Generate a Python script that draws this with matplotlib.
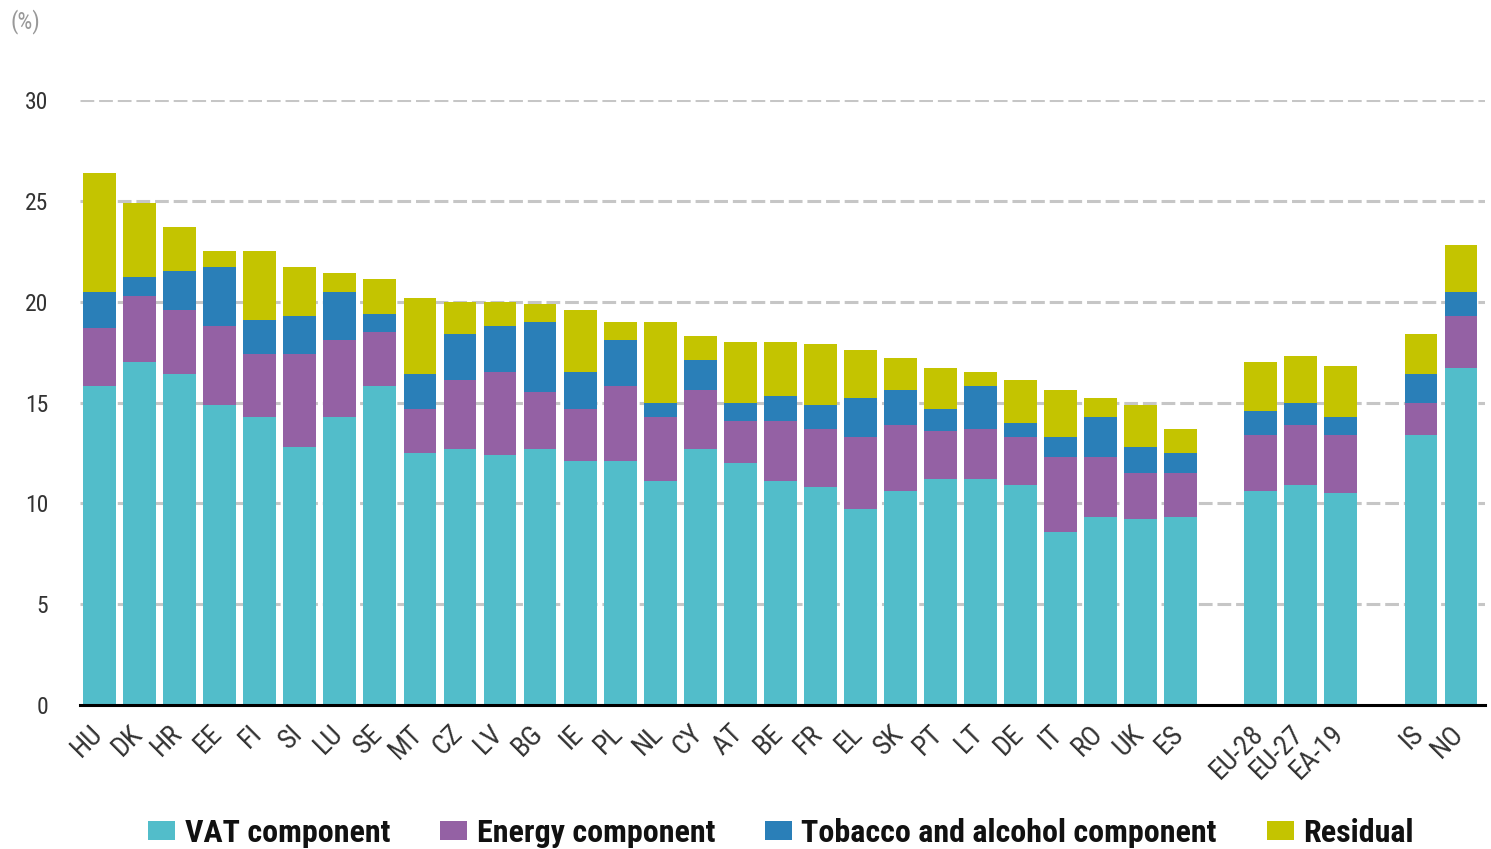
import matplotlib
matplotlib.use("Agg")
import matplotlib.pyplot as plt
from matplotlib import font_manager as fm
import matplotlib.transforms as mtransforms
import numpy as np

entries = fm.fontManager.ttflist
names = set(f.name for f in entries)
FONT, STRETCH = 'Liberation Sans', 'normal'
for cand in ['Roboto Condensed', 'Open Sans Condensed', 'Liberation Sans Narrow', 'Noto Sans Condensed']:
    if cand in names:
        FONT = cand
        break
else:
    if any(f.name == 'DejaVu Sans' and str(f.stretch) in ('condensed', 'semi-condensed') for f in entries):
        FONT, STRETCH = 'DejaVu Sans', 'condensed'
plt.rcParams['font.family'] = [FONT, 'DejaVu Sans']
plt.rcParams['font.stretch'] = STRETCH

countries = ["HU", "DK", "HR", "EE", "FI", "SI", "LU", "SE", "MT", "CZ", "LV", "BG", "IE", "PL",
             "NL", "CY", "AT", "BE", "FR", "EL", "SK", "PT", "LT", "DE", "IT", "RO", "UK", "ES",
             "EU-28", "EU-27", "EA-19", "IS", "NO"]
vat = [15.8, 17.0, 16.4, 14.9, 14.3, 12.8, 14.3, 15.8, 12.5, 12.7, 12.4, 12.7, 12.1, 12.1,
       11.1, 12.7, 12.0, 11.1, 10.8, 9.7, 10.6, 11.2, 11.2, 10.9, 8.6, 9.3, 9.2, 9.3,
       10.6, 10.9, 10.5, 13.4, 16.7]
energy = [2.9, 3.3, 3.2, 3.9, 3.1, 4.6, 3.8, 2.7, 2.2, 3.4, 4.1, 2.8, 2.6, 3.7,
          3.2, 2.9, 2.1, 3.0, 2.9, 3.6, 3.3, 2.4, 2.5, 2.4, 3.7, 3.0, 2.3, 2.2,
          2.8, 3.0, 2.9, 1.6, 2.6]
tobacco = [1.8, 0.9, 1.9, 2.9, 1.7, 1.9, 2.4, 0.9, 1.7, 2.3, 2.3, 3.5, 1.8, 2.3,
           0.7, 1.5, 0.9, 1.2, 1.2, 1.9, 1.7, 1.1, 2.1, 0.7, 1.0, 2.0, 1.3, 1.0,
           1.2, 1.1, 0.9, 1.4, 1.2]
residual = [5.9, 3.7, 2.2, 0.8, 3.4, 2.4, 0.9, 1.7, 3.8, 1.6, 1.2, 0.9, 3.1, 0.9,
            4.0, 1.2, 3.0, 2.7, 3.0, 2.4, 1.6, 2.0, 0.7, 2.1, 2.3, 0.9, 2.1, 1.2,
            2.4, 2.3, 2.5, 2.0, 2.3]
series_names = ["VAT component", "Energy component", "Tobacco and alcohol component", "Residual"]
colors = ["#52BDCA", "#9461A4", "#2A7FB8", "#C4C400"]
yticks = [0, 5, 10, 15, 20, 25, 30]

# positions: 28 countries, gap, 3 aggregates, gap, 2 others
pos = list(range(28)) + [29, 30, 31] + [33, 34]

W, H = 1491, 849
fig = plt.figure(figsize=(W / 100, H / 100), dpi=100)
ax = fig.add_axes([80 / W, 1 - 705 / H, 1405 / W, 605 / H])

data = [vat, energy, tobacco, residual]
bottom = np.zeros(len(countries))
handles = []
for vals, c, n in zip(data, colors, series_names):
    b = ax.bar(pos, vals, bottom=bottom, width=0.82, color=c, label=n, zorder=3)
    handles.append(b)
    bottom += np.array(vals)

ax.set_xlim(-0.49, 34.6)
ax.set_ylim(0, 30)
ax.set_yticks(yticks)
ax.set_yticklabels([str(t) for t in yticks], fontsize=17, color="#333333")
for t in yticks[1:]:
    ax.axhline(t, color="#c6c6c6", lw=2.2, ls=(0, (4.5, 1.6)), zorder=1)

# category labels, rotated 45 degrees, anchored at their tick position
ax.set_xticks(pos)
ax.set_xticklabels([])
lab_tr = ax.get_xaxis_transform() + mtransforms.ScaledTranslation(-11 / 100, -15 / 100, fig.dpi_scale_trans)
for p, name in zip(pos, countries):
    ax.text(p, 0, name, transform=lab_tr, rotation=45, ha='right', va='top',
            rotation_mode='anchor', fontsize=20, color="#333333", clip_on=False)

ax.tick_params(axis='both', length=0)
ax.tick_params(axis='y', pad=23)

for s in ['top', 'right', 'left']:
    ax.spines[s].set_visible(False)
ax.spines['bottom'].set_color('black')
ax.spines['bottom'].set_linewidth(2.2)
ax.spines['bottom'].set_zorder(4)

fig.text(10 / W, 1 - 22 / H, "(%)", fontsize=17, color="#999999", va='center', ha='left')

leg = fig.legend(handles=handles, labels=series_names, loc='center', bbox_to_anchor=(781 / W, 1 - 833 / H),
                 ncol=4, frameon=False, handlelength=0.85, handleheight=0.55,
                 columnspacing=1.55, handletextpad=0.3, prop={'weight': 'bold', 'size': 23, 'stretch': STRETCH})
for t in leg.get_texts():
    t.set_color('#111111')

fig.savefig("out.png", dpi=100)
